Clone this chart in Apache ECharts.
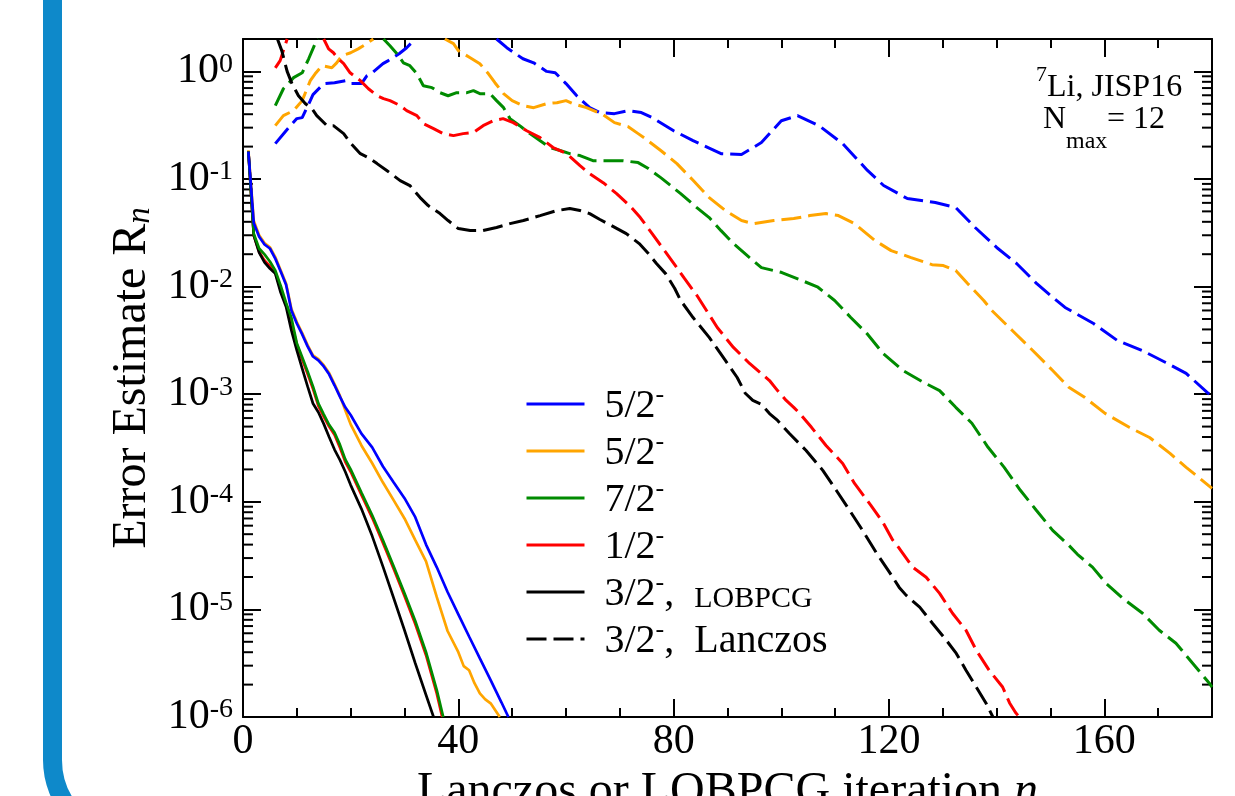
<!DOCTYPE html>
<html><head><meta charset="utf-8">
<script src="https://cdn.jsdelivr.net/npm/echarts@6/dist/echarts.min.js"></script>
<style>html,body{margin:0;padding:0;background:#fff}#c{width:1235px;height:796px}</style>
</head><body><div id="c"></div>
<script>
const FONT = 'Liberation Serif';
// axes
const xMin = 0, xMax = 180, xStep = 40;
const yMin = 1e-6, yMax = 2;
const minorMantissas = [2, 3, 4, 5, 6, 7, 8, 9];
const minorDecades = [-6, -5, -4, -3, -2, -1];

// LOBPCG (solid) : [iteration n, error estimate R_n]
const lobBlue = [[1,0.18],[2,0.039],[3,0.029],[4,0.0246],[5,0.0226],[6,0.0182],[7,0.0138],[8,0.0104],[9,0.006],[10,0.00454],[11,0.00359],[12,0.00278],[13,0.00224],[14,0.00206],[15,0.00181],[16,0.00153],[17,0.00121],[18,0.00095],[19,0.000755],[20,0.00064],[22,0.00043],[24,0.00032],[26,0.000213],[28,0.000151],[30,0.000108],[32,7.2e-5],[34,4.0e-5],[36,2.46e-5],[38,1.45e-5],[40,9.0e-6],[42,5.6e-6],[44,3.5e-6],[46,2.2e-6],[48,1.37e-6],[49.3,1.0e-6]];
const lobOrange = [[1,0.185],[2,0.041],[3,0.03],[4,0.0254],[5,0.0232],[6,0.0188],[7,0.0142],[8,0.0107],[9,0.0062],[10,0.00468],[11,0.0037],[12,0.00286],[13,0.0023],[14,0.00212],[15,0.00186],[16,0.00157],[17,0.00124],[18,0.00097],[19,0.00071],[20,0.000524],[22,0.000334],[24,0.000228],[26,0.000151],[28,0.000103],[30,7.0e-5],[32,4.4e-5],[34,2.8e-5],[36,1.3e-5],[38,6.3e-6],[40,4.0e-6],[41,2.97e-6],[42,2.72e-6],[43,2.06e-6],[44,1.66e-6],[45,1.46e-6],[46,1.34e-6],[47.7,1.0e-6]];
const lobGreen = [[1,0.18],[2,0.031],[3,0.0226],[4,0.0199],[5,0.0171],[6,0.0141],[7,0.0102],[8,0.0071],[9,0.0051],[10,0.00297],[11,0.0022],[12,0.00163],[13,0.00118],[14,0.00082],[15,0.00065],[16,0.00052],[17,0.00044],[18,0.00034],[19,0.000248],[20,0.0002],[22,0.000122],[24,7.5e-5],[26,4.4e-5],[28,2.5e-5],[30,1.41e-5],[32,7.8e-6],[34,4.0e-6],[36,1.78e-6],[37.2,1.0e-6]];
const lobRed = [[1,0.18],[2,0.03],[3,0.021],[4,0.0175],[5,0.0155],[6,0.0136],[7,0.0094],[8,0.0068],[9,0.0046],[10,0.0029],[11,0.0021],[12,0.00155],[13,0.00112],[14,0.00078],[15,0.00062],[16,0.0005],[17,0.00042],[18,0.00032],[19,0.000235],[20,0.00019],[22,0.000116],[24,7.1e-5],[26,4.15e-5],[28,2.37e-5],[30,1.33e-5],[32,7.3e-6],[34,3.75e-6],[36,1.65e-6],[37,1.0e-6]];
const lobBlack = [[1,0.18],[2,0.03],[3,0.0207],[4,0.0168],[5,0.0147],[6,0.0132],[7,0.0088],[8,0.0065],[9,0.0039],[10,0.00255],[11,0.00173],[12,0.00118],[13,0.00082],[14,0.00068],[15,0.00053],[16,0.0004],[17,0.000306],[18,0.000245],[19,0.00019],[20,0.000143],[22,8.6e-5],[24,4.8e-5],[26,2.5e-5],[28,1.27e-5],[30,6.4e-6],[32,3.16e-6],[34,1.6e-6],[35.4,1.0e-6]];

// Lanczos (dashed)
const lanBlue = [[6,0.213],[8,0.281],[10,0.364],[11,0.372],[12.5,0.535],[13,0.608],[15,0.769],[17,0.785],[19,0.82],[20,0.77],[22,0.77],[23,0.91],[24,0.97],[26,1.18],[27,1.26],[29,1.46],[30.4,1.66],[32,2.0],[32.5,null],[47.1,2.0],[49,1.66],[52,1.31],[54,1.2],[56.4,1.0],[58,0.97],[60,0.77],[62,0.594],[64.4,0.46],[66.3,0.414],[69,0.405],[71.5,0.432],[74,0.414],[76,0.372],[80,0.281],[83.6,0.227],[88.8,0.172],[92.6,0.169],[96.3,0.218],[100,0.348],[103,0.388],[107,0.313],[111.4,0.213],[116,0.12],[119,0.087],[123.4,0.0658],[128.6,0.0604],[132.4,0.0543],[136,0.0354],[140,0.0231],[143.7,0.0164],[147.4,0.0107],[150,0.00826],[152.7,0.0064],[158,0.00454],[162.4,0.00316],[167,0.00255],[171.4,0.00197],[175.2,0.00156],[179.3,0.00102],[180,0.00097]];
const lanOrange = [[6,0.313],[7.5,0.388],[9.4,0.432],[11,0.535],[12.5,0.82],[13.4,0.95],[14.7,1.13],[16.5,1.08],[17.4,1.2],[18.4,1.4],[20,1.49],[21.4,1.62],[23,1.81],[24.2,2.0],[24.5,null],[37.5,2.0],[39.1,1.81],[40,1.56],[42.2,1.34],[44,1.18],[45.6,0.95],[46.8,0.785],[48.4,0.621],[50,0.535],[52,0.481],[54,0.46],[56.4,0.501],[58.3,0.512],[60,0.535],[61.3,0.501],[63.8,0.46],[66.9,0.396],[69,0.334],[71.5,0.307],[73.4,0.264],[74.5,0.242],[77.6,0.184],[80.6,0.139],[83.6,0.0973],[86.6,0.0672],[89.6,0.0509],[92.6,0.0411],[94.8,0.0385],[98.6,0.0411],[102.3,0.0429],[105.3,0.0457],[108.3,0.0477],[110.6,0.0457],[113.6,0.0385],[117.4,0.0268],[120.4,0.0216],[124.1,0.0186],[128,0.016],[130.1,0.0157],[132.4,0.0141],[134.6,0.0107],[137.6,0.00743],[139.1,0.006],[142.9,0.00391],[146.7,0.00255],[150.4,0.00166],[153.4,0.00116],[156.4,0.00093],[160.2,0.00066],[164.7,0.00049],[168.4,0.000396],[172.2,0.000282],[175.2,0.000209],[177.5,0.000169],[180,0.000133]];
const lanGreen = [[6,0.48],[7.5,0.69],[9.4,0.875],[11,0.97],[12.2,1.31],[13.4,1.81],[14,2.0],[14.5,null],[26.1,2.0],[27.3,1.73],[28.6,1.46],[29.8,1.2],[31,1.13],[32.3,0.95],[33.5,0.736],[35.1,0.706],[36.6,0.634],[38.1,0.594],[39.7,0.634],[41.6,0.634],[42.8,0.662],[44,0.62],[45.9,0.62],[47.1,0.535],[48.4,0.46],[49.6,0.364],[51.4,0.313],[53.3,0.264],[55.2,0.227],[57,0.196],[58.9,0.184],[60.7,0.172],[62.6,0.165],[65,0.148],[67.5,0.148],[70.6,0.148],[73.4,0.142],[75.3,0.125],[77.6,0.103],[79,0.0906],[81.3,0.0731],[84.3,0.0542],[86.6,0.0438],[88.8,0.0331],[91.1,0.0251],[94.1,0.0186],[96.3,0.015],[100.1,0.0135],[103.8,0.0114],[106.8,0.00987],[109.9,0.00743],[112.9,0.00516],[115.9,0.00366],[118.9,0.00239],[122.6,0.00166],[126.4,0.00129],[129.4,0.00108],[132.4,0.000755],[135.4,0.000537],[138.4,0.000321],[141.4,0.000209],[144.4,0.000128],[147.4,8.3e-5],[150.4,5.43e-5],[153.4,3.94e-5],[155,3.25e-5],[157.8,2.47e-5],[160.3,1.75e-5],[163.4,1.27e-5],[167.1,9.2e-6],[170.2,6.4e-6],[173.3,4.85e-6],[176.4,3.16e-6],[179.5,2.06e-6],[180,1.9e-6]];
const lanRed = [[6,1.08],[6.9,1.26],[7.5,1.56],[8.2,2.0],[8.5,null],[15,2.0],[15.9,1.62],[16.8,1.49],[17.7,1.31],[18.7,1.18],[19.9,0.97],[21.8,0.82],[23.3,0.69],[24.9,0.594],[26.1,0.558],[27.3,0.535],[29.2,0.481],[30.4,0.432],[32.3,0.388],[33.5,0.327],[35.4,0.294],[37.2,0.264],[39.1,0.253],[40.9,0.264],[42.8,0.27],[44.6,0.313],[46.5,0.348],[48.3,0.364],[50.2,0.334],[52.7,0.281],[55.2,0.242],[57.6,0.196],[60.1,0.172],[62.6,0.133],[64.4,0.112],[66.9,0.0925],[69.4,0.0731],[72,0.0553],[73.8,0.0438],[76,0.031],[78.3,0.0216],[80.6,0.015],[82,0.0119],[84.3,0.0083],[88.1,0.00417],[91.1,0.00272],[94.1,0.00193],[97.8,0.00134],[99.3,0.00108],[100.9,0.000875],[102.3,0.000755],[103.4,0.000664],[105.6,0.000492],[108.3,0.000334],[111.4,0.000227],[113.6,0.000148],[116.6,9.3e-5],[118.9,6.4e-5],[120.7,4.4e-5],[121.9,3.7e-5],[124.4,2.47e-5],[126.9,1.99e-5],[129.4,1.41e-5],[131.8,9.2e-6],[134.3,6.4e-6],[136.2,4.18e-6],[138.6,2.72e-6],[141.1,1.9e-6],[142.4,1.35e-6],[143.5,1.1e-6],[144.2,1.0e-6]];
const lanBlack = [[6.4,2.0],[7.2,1.56],[8.2,1.0],[9.1,0.769],[10.3,0.594],[11.6,0.501],[12.8,0.451],[13.7,0.388],[15.6,0.313],[16.8,0.313],[18.7,0.264],[19.9,0.218],[21.8,0.172],[23.3,0.158],[24.9,0.139],[26.7,0.12],[29.2,0.0966],[31,0.0869],[32.9,0.0672],[34.4,0.0566],[36.6,0.0477],[38.1,0.0411],[40,0.0346],[42.2,0.0332],[44.6,0.0332],[47.1,0.0354],[49.6,0.0385],[52.1,0.0411],[55.2,0.0457],[58.3,0.0509],[60.7,0.0531],[62.6,0.0509],[64.4,0.0477],[66.3,0.042],[68.8,0.0361],[71.2,0.0311],[73.6,0.0251],[75.3,0.0203],[76.8,0.0164],[78.5,0.0132],[80.2,0.0096],[81.3,0.00743],[83.6,0.00516],[86.6,0.00337],[89.6,0.00206],[91.8,0.00143],[93.3,0.00102],[94.7,0.000875],[96.3,0.000803],[97.8,0.00066],[99.3,0.00057],[101.5,0.000431],[104.6,0.0003],[107.7,0.000196],[110.2,0.000128],[112.7,8.3e-5],[115.1,5.42e-5],[117.6,3.39e-5],[120.1,2.21e-5],[121.9,1.6e-5],[123.2,1.35e-5],[125.7,1.05e-5],[128.1,7.4e-6],[130.6,5.2e-6],[132.5,3.9e-6],[134.3,2.72e-6],[136.2,1.9e-6],[138,1.35e-6],[139.3,1.0e-6]];

const legendNames = ['b5', 'o5', 'g7', 'r1', 'k3', 'k3L'];
const legendLabels = {
  b5: '{sp|}{m|5/2}{s|-}',
  o5: '{sp|}{m|5/2}{s|-}',
  g7: '{sp|}{m|7/2}{s|-}',
  r1: '{sp|}{m|1/2}{s|-}',
  k3: '{sp|}{m|3/2}{s|-}{m|,  }{sm|LOBPCG}',
  k3L: '{sp|}{m|3/2}{s|-}{m|,  Lanczos}'
};

const C = {blue:'#0000ff', orange:'#ffa500', green:'#008b00', red:'#ff0000', black:'#000000'};

function solid(name, color, data) {
  return {type:'line', name, data, symbol:'none', showSymbol:false, clip:true,
    lineStyle:{color, width:2.7}, itemStyle:{color}, emphasis:{disabled:true}};
}
function dashed(name, color, data) {
  return {type:'line', name, data, symbol:'none', showSymbol:false, clip:true,
    lineStyle:{color, width:3, type:[20, 7]}, itemStyle:{color}, emphasis:{disabled:true}};
}

const minorVals = [];
minorDecades.forEach(e => minorMantissas.forEach(m => minorVals.push([xMin, m * Math.pow(10, e)])));

const chart = echarts.init(document.getElementById('c'), null, {renderer:'canvas'});
const axisLineStyle = {color:'#000', width:2};
chart.setOption({
  animation:false,
  backgroundColor:'#fff',
  grid:{left:243, top:39, width:969, height:678, containLabel:false, outerBoundsMode:'none'},
  xAxis:[{
    type:'value', min:xMin, max:xMax, interval:xStep, position:'bottom',
    axisLine:{show:true, onZero:false, lineStyle:axisLineStyle},
    axisTick:{show:true, inside:true, length:18, lineStyle:{width:2, color:'#000'}},
    minorTick:{show:true, splitNumber:4, length:9, lineStyle:{width:2, color:'#000'}},
    splitLine:{show:false}, minorSplitLine:{show:false},
    axisLabel:{fontFamily:FONT, fontSize:42, color:'#000', margin:4, showMaxLabel:false},
    name:'{t|Lanczos or LOBPCG iteration }{i|n}', nameLocation:'middle', nameGap:45,
    nameTextStyle:{color:'#000', rich:{
      t:{fontFamily:FONT, fontSize:48, lineHeight:48, color:'#000'},
      i:{fontFamily:FONT, fontSize:48, lineHeight:48, fontStyle:'italic', color:'#000'}}}
  },{
    type:'value', min:xMin, max:xMax, interval:xStep, position:'top',
    axisLine:{show:true, onZero:false, lineStyle:axisLineStyle},
    axisTick:{show:true, inside:true, length:18, lineStyle:{width:2, color:'#000'}},
    minorTick:{show:true, splitNumber:4, length:9, lineStyle:{width:2, color:'#000'}},
    splitLine:{show:false}, axisLabel:{show:false}
  }],
  yAxis:[{
    type:'log', logBase:10, min:yMin, max:yMax, splitNumber:7, position:'left',
    axisLine:{show:true, onZero:false, lineStyle:axisLineStyle},
    axisTick:{show:true, inside:true, length:18, lineStyle:{width:2, color:'#000'}},
    splitLine:{show:false},
    axisLabel:{margin:10, showMaxLabel:false, color:'#000',
      formatter: v => '{b|10}{e|' + Math.round(Math.log10(v)) + '}',
      rich:{
        b:{fontFamily:FONT, fontSize:42, lineHeight:42, verticalAlign:'bottom', color:'#000'},
        e:{fontFamily:FONT, fontSize:28, lineHeight:28, verticalAlign:'top', padding:[0,0,30,0], color:'#000'}
      }},
    name:'{t|Error Estimate R}{n|n}', nameLocation:'middle', nameGap:84,
    nameTextStyle:{color:'#000', rich:{
      t:{fontFamily:FONT, fontSize:48, lineHeight:48, verticalAlign:'top', color:'#000'},
      n:{fontFamily:FONT, fontSize:33, lineHeight:30, fontStyle:'italic', verticalAlign:'bottom', padding:[30,0,0,0], color:'#000'}}}
  },{
    type:'log', logBase:10, min:yMin, max:yMax, splitNumber:7, position:'right',
    axisLine:{show:true, onZero:false, lineStyle:axisLineStyle},
    axisTick:{show:true, inside:true, length:18, lineStyle:{width:2, color:'#000'}},
    splitLine:{show:false}, axisLabel:{show:false}
  }],
  legend:{
    data:legendNames, orient:'vertical', left:525, top:382, padding:0,
    itemWidth:58, itemHeight:14, itemGap:-11, selectedMode:false, align:'left',
    lineStyle:{width:3}, itemStyle:{opacity:0},
    formatter: name => legendLabels[name],
    textStyle:{color:'#000', fontFamily:FONT, rich:{
      sp:{width:15},
      m:{fontFamily:FONT, fontSize:40, lineHeight:44, verticalAlign:'bottom', color:'#000'},
      s:{fontFamily:FONT, fontSize:26, lineHeight:26, verticalAlign:'top', padding:[0,0,32,0], color:'#000'},
      sm:{fontFamily:FONT, fontSize:30, lineHeight:37, verticalAlign:'bottom', color:'#000'}
    }}
  },
  graphic:[
    {type:'rect', silent:true, z:-10, shape:{x:52.5, y:-300, width:2000, height:1140, r:80},
      style:{fill:'none', stroke:'#0e89ca', lineWidth:19}},
    {type:'text', silent:true, x:1036, y:75.5, style:{text:'7', fontFamily:FONT, fontSize:22, fill:'#000', verticalAlign:'middle', align:'left'}},
    {type:'text', silent:true, x:1047, y:88, style:{text:'Li, JISP16', fontFamily:FONT, fontSize:32, fill:'#000', verticalAlign:'middle', align:'left'}},
    {type:'text', silent:true, x:1043, y:120, style:{text:'N', fontFamily:FONT, fontSize:32, fill:'#000', verticalAlign:'middle', align:'left'}},
    {type:'text', silent:true, x:1066, y:142, style:{text:'max', fontFamily:FONT, fontSize:24, fill:'#000', verticalAlign:'middle', align:'left'}},
    {type:'text', silent:true, x:1107, y:120, style:{text:'= 12', fontFamily:FONT, fontSize:32, fill:'#000', verticalAlign:'middle', align:'left'}}
  ],
  series:[
    dashed('b5L', C.blue, lanBlue),
    dashed('o5L', C.orange, lanOrange),
    dashed('g7L', C.green, lanGreen),
    dashed('r1L', C.red, lanRed),
    dashed('k3L', C.black, lanBlack),
    solid('o5', C.orange, lobOrange),
    solid('r1', C.red, lobRed),
    solid('k3', C.black, lobBlack),
    solid('g7', C.green, lobGreen),
    solid('b5', C.blue, lobBlue),
    {type:'custom', name:'minorTicks', silent:true, clip:false, data:minorVals,
      renderItem:(params, api) => {
        const v = api.value(1);
        const pL = api.coord([xMin, v]);
        const pR = api.coord([xMax, v]);
        return {type:'group', children:[
          {type:'line', shape:{x1:pL[0], y1:pL[1], x2:pL[0] + 10, y2:pL[1]}, style:{stroke:'#000', lineWidth:2}},
          {type:'line', shape:{x1:pR[0], y1:pR[1], x2:pR[0] - 10, y2:pR[1]}, style:{stroke:'#000', lineWidth:2}}
        ]};
      }}
  ]
});
</script></body></html>
